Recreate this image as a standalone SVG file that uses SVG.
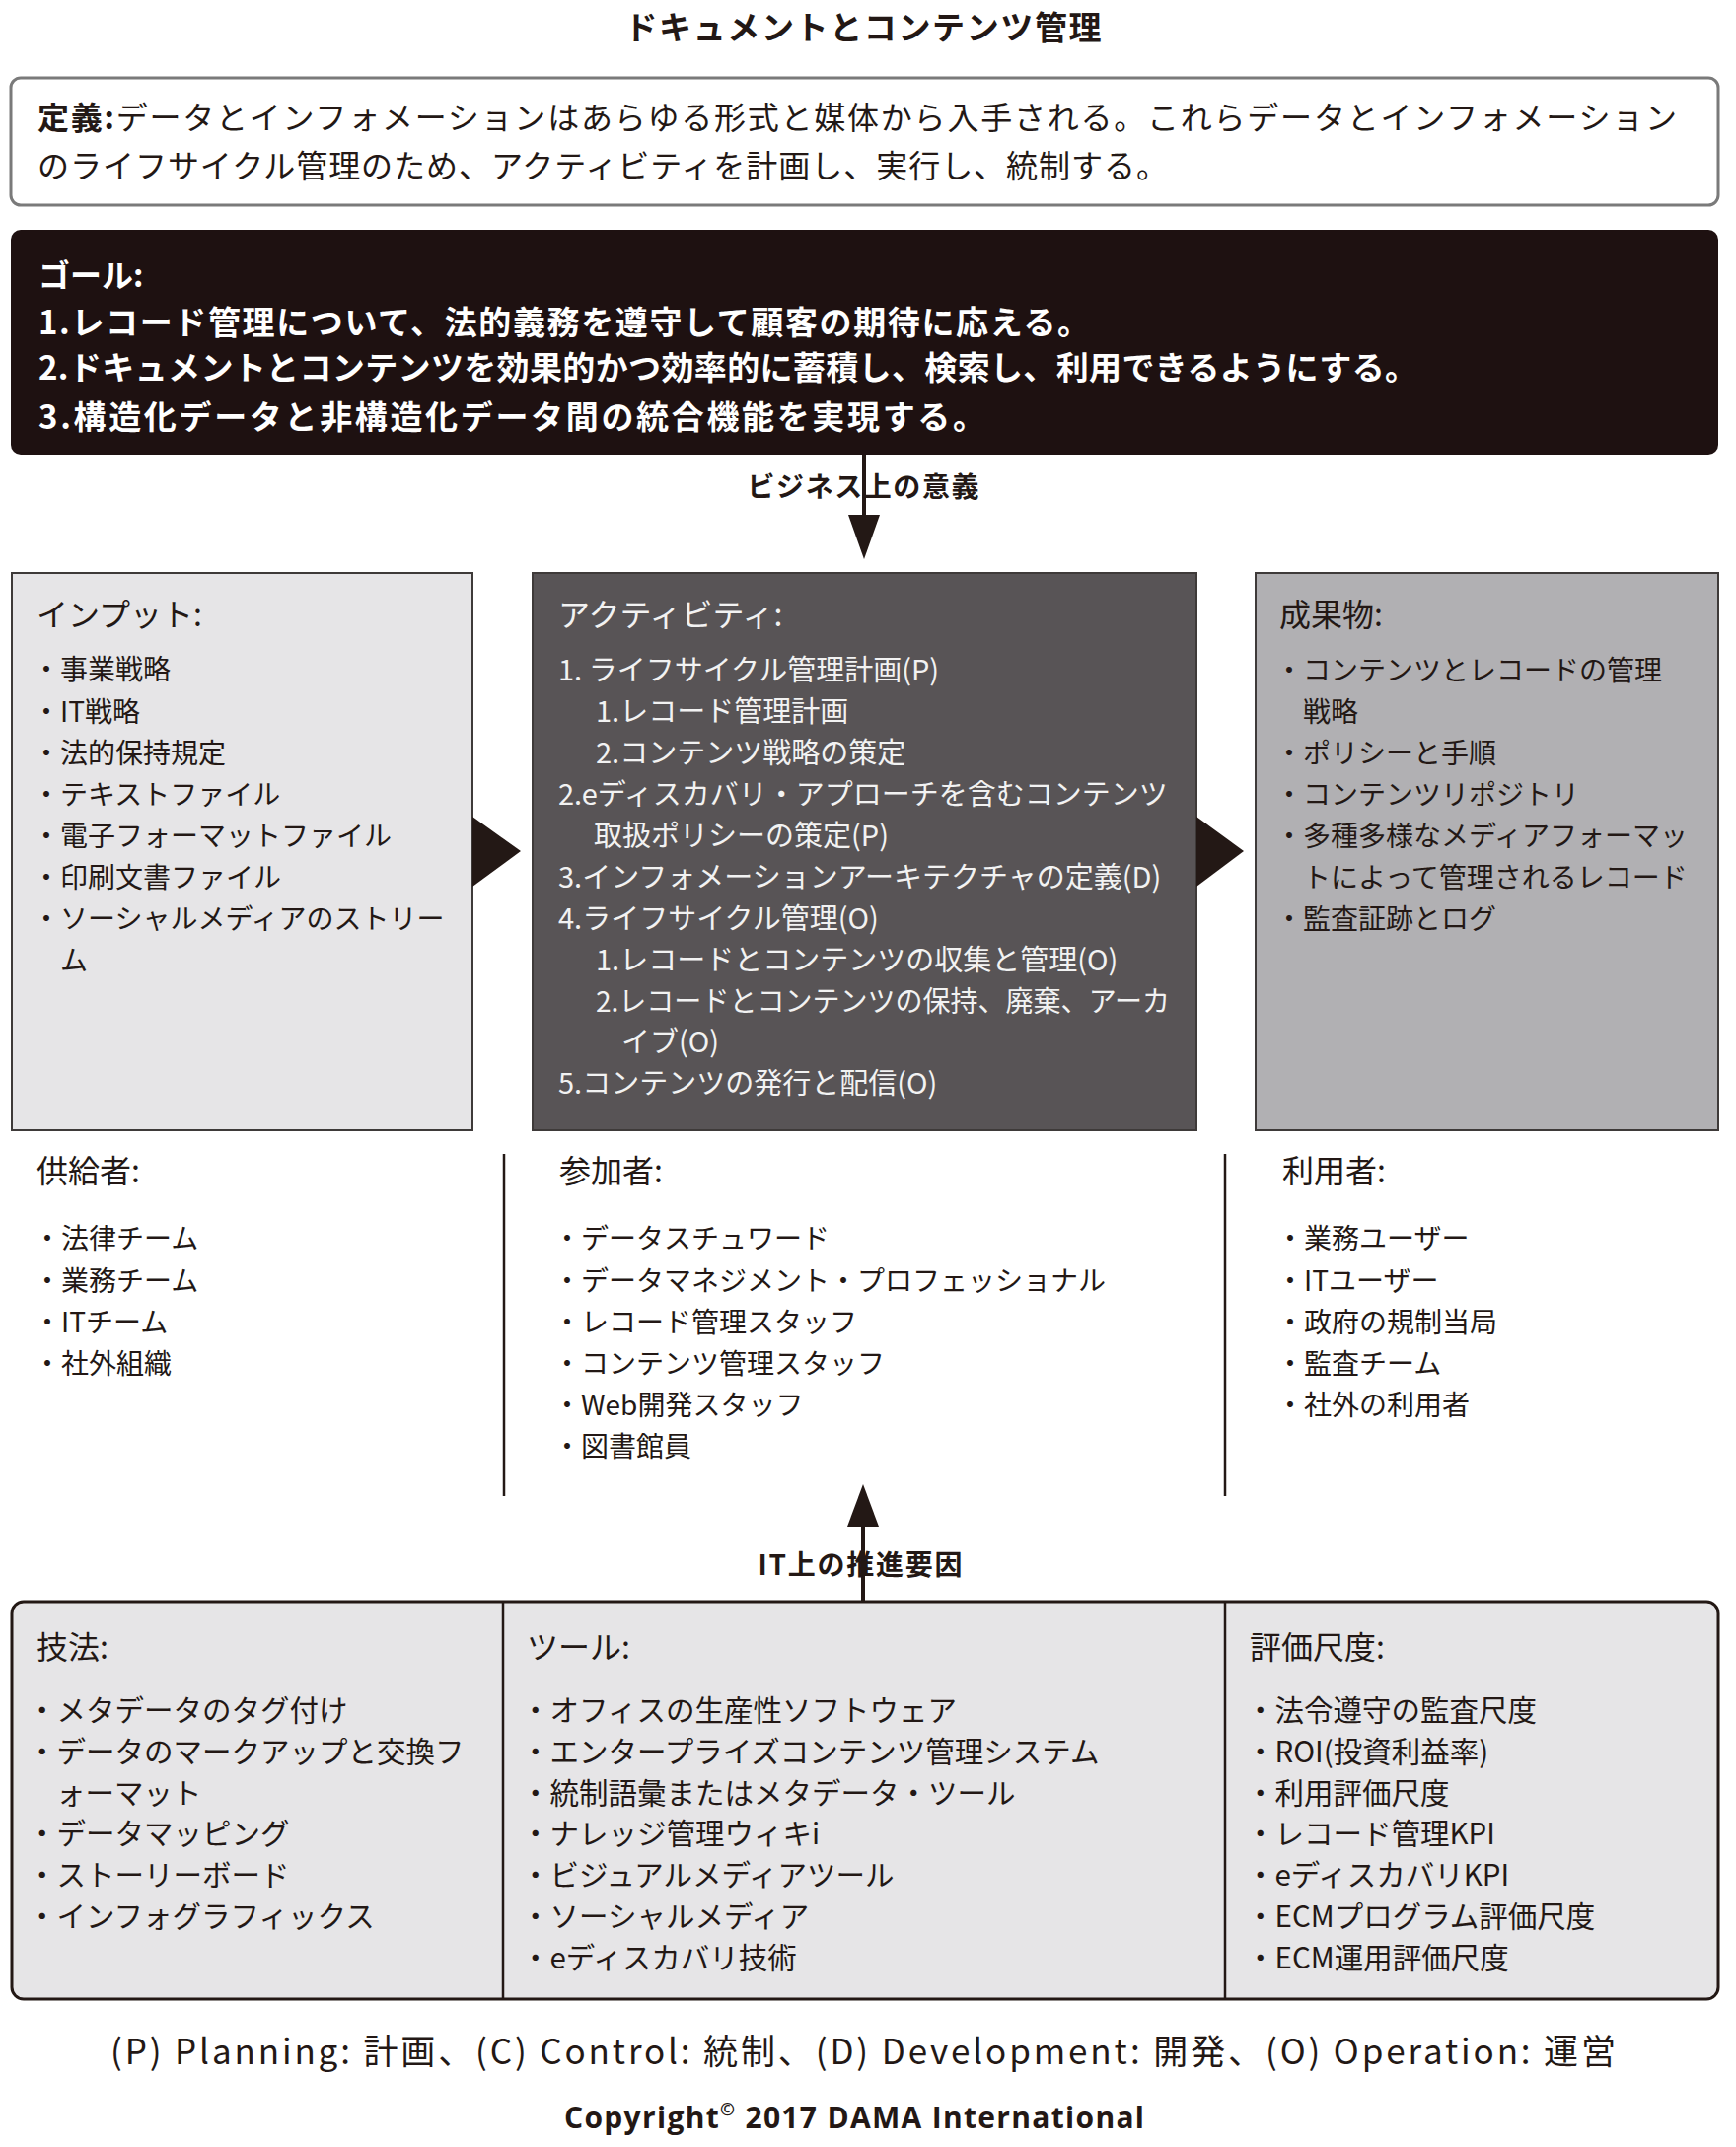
<svg xmlns="http://www.w3.org/2000/svg" width="1760" height="2177" viewBox="0 0 1760 2177">
<style>
text{font-family:"Noto Sans CJK JP","Noto Sans",sans-serif;fill:#231815}
.h{font-size:32px}
.b{font-size:28px}
.a{font-size:29px}
.m{font-size:29.5px}
.w{fill:#f2f2f2}
.bold{font-weight:700}
.ln{stroke:#231815;stroke-width:2.5;fill:none}
.box{stroke:#3e3a39;stroke-width:2}
</style>
<rect width="1760" height="2177" fill="#ffffff"/>

<g id="title">
<text x="875" y="40" text-anchor="middle" class="bold" font-size="33" textLength="483">ドキュメントとコンテンツ管理</text>
</g>

<g id="definition">
<rect x="11" y="79" width="1731" height="129" rx="10" fill="#ffffff" stroke="#7a7a7a" stroke-width="3"/>
<text x="38" y="131" font-size="32" textLength="1662"><tspan class="bold">定義:</tspan>データとインフォメーションはあらゆる形式と媒体から入手される。これらデータとインフォメーション</text>
<text x="38" y="180" font-size="32" textLength="1146">のライフサイクル管理のため、アクティビティを計画し、実行し、統制する。</text>
</g>

<g id="goals">
<rect x="11" y="233" width="1731" height="228" rx="10" fill="#1e1111"/>
<text x="39" y="291" font-size="32" class="bold" style="fill:#ffffff">ゴール:</text>
<text x="39" y="339" font-size="33" class="bold" style="fill:#ffffff" textLength="1066">1.レコード管理について、法的義務を遵守して顧客の期待に応える。</text>
<text x="39" y="385" font-size="33" class="bold" style="fill:#ffffff" textLength="1398">2.ドキュメントとコンテンツを効果的かつ効率的に蓄積し、検索し、利用できるようにする。</text>
<text x="39" y="435" font-size="33" class="bold" style="fill:#ffffff" textLength="960">3.構造化データと非構造化データ間の統合機能を実現する。</text>
</g>

<g id="inputs">
<rect x="12" y="581" width="467" height="565" fill="#e6e5e7" class="box"/>
<text x="37" y="635" class="h">インプット:</text>
<text x="33" y="689" class="b">・事業戦略</text>
<text x="33" y="732" class="b">・IT戦略</text>
<text x="33" y="774" class="b">・法的保持規定</text>
<text x="33" y="816" class="b">・テキストファイル</text>
<text x="33" y="858" class="b">・電子フォーマットファイル</text>
<text x="33" y="900" class="b">・印刷文書ファイル</text>
<text x="33" y="942" class="b">・ソーシャルメディアのストリー</text>
<text x="61" y="984" class="b">ム</text>
</g>

<g id="activities">
<rect x="540" y="581" width="673" height="565" fill="#585456" class="box"/>
<text x="566" y="635" class="h w">アクティビティ:</text>
<text x="566" y="690" class="a w">1. ライフサイクル管理計画(P)</text>
<text x="604" y="732" class="a w">1.レコード管理計画</text>
<text x="604" y="774" class="a w">2.コンテンツ戦略の策定</text>
<text x="566" y="816" class="a w">2.eディスカバリ・アプローチを含むコンテンツ</text>
<text x="602" y="858" class="a w">取扱ポリシーの策定(P)</text>
<text x="566" y="900" class="a w">3.インフォメーションアーキテクチャの定義(D)</text>
<text x="566" y="942" class="a w">4.ライフサイクル管理(O)</text>
<text x="604" y="984" class="a w">1.レコードとコンテンツの収集と管理(O)</text>
<text x="604" y="1026" class="a w" textLength="582" lengthAdjust="spacingAndGlyphs">2.レコードとコンテンツの保持、廃棄、アーカ</text>
<text x="630" y="1067" class="a w">イブ(O)</text>
<text x="566" y="1109" class="a w">5.コンテンツの発行と配信(O)</text>
</g>

<g id="deliverables">
<rect x="1273" y="581" width="469" height="565" fill="#b1b0b3" class="box"/>
<text x="1297" y="635" class="h">成果物:</text>
<text x="1293" y="690" class="b">・コンテンツとレコードの管理</text>
<text x="1321" y="732" class="b">戦略</text>
<text x="1293" y="774" class="b">・ポリシーと手順</text>
<text x="1293" y="816" class="b">・コンテンツリポジトリ</text>
<text x="1293" y="858" class="b">・多種多様なメディアフォーマッ</text>
<text x="1321" y="900" class="b">トによって管理されるレコード</text>
<text x="1293" y="942" class="b">・監査証跡とログ</text>
</g>

<g id="suppliers">
<text x="37" y="1199" class="h">供給者:</text>
<text x="34" y="1266" class="b">・法律チーム</text>
<text x="34" y="1309" class="b">・業務チーム</text>
<text x="34" y="1351" class="b">・ITチーム</text>
<text x="34" y="1393" class="b">・社外組織</text>
</g>

<g id="participants">
<text x="567" y="1199" class="h">参加者:</text>
<text x="561" y="1266" class="b">・データスチュワード</text>
<text x="561" y="1309" class="b">・データマネジメント・プロフェッショナル</text>
<text x="561" y="1351" class="b">・レコード管理スタッフ</text>
<text x="561" y="1393" class="b">・コンテンツ管理スタッフ</text>
<text x="561" y="1435" class="b">・Web開発スタッフ</text>
<text x="561" y="1477" class="b">・図書館員</text>
</g>

<g id="consumers">
<text x="1300" y="1199" class="h">利用者:</text>
<text x="1294" y="1266" class="b">・業務ユーザー</text>
<text x="1294" y="1309" class="b">・ITユーザー</text>
<text x="1294" y="1351" class="b">・政府の規制当局</text>
<text x="1294" y="1393" class="b">・監査チーム</text>
<text x="1294" y="1435" class="b">・社外の利用者</text>
</g>

<g id="bottom-frame">
<rect x="12" y="1624" width="1730" height="403" rx="12" fill="#e6e5e7" stroke="#231815" stroke-width="3"/>
</g>

<g id="techniques">
<text x="37" y="1682" class="h">技法:</text>
<text x="28" y="1745" class="m">・メタデータのタグ付け</text>
<text x="28" y="1787" class="m">・データのマークアップと交換フ</text>
<text x="57" y="1829" class="m">ォーマット</text>
<text x="28" y="1870" class="m">・データマッピング</text>
<text x="28" y="1912" class="m">・ストーリーボード</text>
<text x="28" y="1954" class="m">・インフォグラフィックス</text>
</g>

<g id="tools">
<text x="534" y="1682" class="h">ツール:</text>
<text x="528" y="1745" class="m">・オフィスの生産性ソフトウェア</text>
<text x="528" y="1787" class="m">・エンタープライズコンテンツ管理システム</text>
<text x="528" y="1829" class="m">・統制語彙またはメタデータ・ツール</text>
<text x="528" y="1870" class="m">・ナレッジ管理ウィキi</text>
<text x="528" y="1912" class="m">・ビジュアルメディアツール</text>
<text x="528" y="1954" class="m">・ソーシャルメディア</text>
<text x="528" y="1996" class="m">・eディスカバリ技術</text>
</g>

<g id="metrics">
<text x="1267" y="1682" class="h">評価尺度:</text>
<text x="1263" y="1745" class="m">・法令遵守の監査尺度</text>
<text x="1263" y="1787" class="m">・ROI(投資利益率)</text>
<text x="1263" y="1829" class="m">・利用評価尺度</text>
<text x="1263" y="1870" class="m">・レコード管理KPI</text>
<text x="1263" y="1912" class="m">・eディスカバリKPI</text>
<text x="1263" y="1954" class="m">・ECMプログラム評価尺度</text>
<text x="1263" y="1996" class="m">・ECM運用評価尺度</text>
</g>

<g id="connectors">
<line x1="876" y1="461" x2="876" y2="530" stroke="#231815" stroke-width="4"/>
<polygon points="860,522 892,522 876,567" fill="#231815"/>
<polygon points="479,828 528,863 479,899" fill="#231815"/>
<polygon points="1213,828 1261,863 1213,899" fill="#231815"/>
<line x1="511" y1="1170" x2="511" y2="1517" class="ln"/>
<line x1="1242" y1="1170" x2="1242" y2="1517" class="ln"/>
<line x1="875" y1="1624" x2="875" y2="1540" stroke="#231815" stroke-width="4"/>
<polygon points="859,1548 891,1548 875,1505" fill="#231815"/>
<line x1="510" y1="1624" x2="510" y2="2027" class="ln"/>
<line x1="1242" y1="1624" x2="1242" y2="2027" class="ln"/>
</g>

<g id="labels">
<text x="875" y="504" text-anchor="middle" font-size="28" class="bold" textLength="235">ビジネス上の意義</text>
<text x="872" y="1597" text-anchor="middle" font-size="28" class="bold" textLength="207">IT上の推進要因</text>
</g>

<g id="footer">
<text x="875" y="2093" text-anchor="middle" font-size="35" textLength="1526">(P) Planning: 計画、(C) Control: 統制、(D) Development: 開発、(O) Operation: 運営</text>
<text x="866" y="2158" text-anchor="middle" font-size="30" class="bold" style="font-family:'Open Sans','Noto Sans',sans-serif" textLength="588">Copyright<tspan font-size="18" dy="-13">©</tspan><tspan dy="13"> 2017 DAMA International</tspan></text>
</g>
</svg>
